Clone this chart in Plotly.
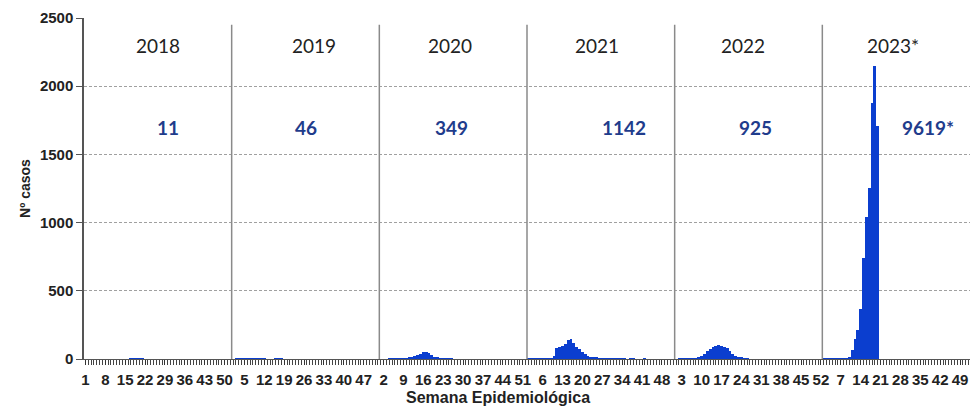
import plotly.graph_objects as go

# ---- data (weekly cases, 52 weeks per year) ----
years = ["2018", "2019", "2020", "2021", "2022", "2023*"]
year_totals = ["11", "46", "349", "1142", "925", "9619*"]

cases_2018 = [0, 0, 0, 0, 0, 0, 0, 0, 0, 0, 0, 0, 0,
              0, 0, 0, 1, 3, 4, 2, 1, 0, 0, 0, 0, 0,
              0, 0, 0, 0, 0, 0, 0, 0, 0, 0, 0, 0, 0,
              0, 0, 0, 0, 0, 0, 0, 0, 0, 0, 0, 0, 0]
cases_2019 = [0, 1, 2, 4, 6, 7, 7, 6, 4, 3, 2, 1, 0,
              0, 0, 1, 1, 1, 0, 0, 0, 0, 0, 0, 0, 0,
              0, 0, 0, 0, 0, 0, 0, 0, 0, 0, 0, 0, 0,
              0, 0, 0, 0, 0, 0, 0, 0, 0, 0, 0, 0, 0]
cases_2020 = [0, 0, 0, 2, 3, 4, 3, 2, 3, 5, 8, 12, 20,
              28, 38, 48, 52, 45, 32, 18, 10, 6, 4, 3, 2, 1,
              0, 0, 0, 0, 0, 0, 0, 0, 0, 0, 0, 0, 0,
              0, 0, 0, 0, 0, 0, 0, 0, 0, 0, 0, 0, 0]
cases_2021 = [1, 2, 1, 2, 2, 1, 2, 2, 2, 20, 80, 90, 95,
              110, 140, 150, 115, 90, 70, 50, 35, 25, 18, 12, 8, 5,
              2, 1, 1, 2, 1, 1, 1, 1, 1, 0, 1, 1, 0,
              0, 0, 1, 0, 0, 0, 0, 0, 0, 0, 0, 0, 0]
cases_2022 = [0, 1, 1, 1, 1, 2, 2, 5, 10, 25, 40, 60, 75,
              88, 95, 100, 98, 88, 78, 60, 40, 25, 15, 10, 3, 2,
              0, 0, 0, 0, 0, 0, 0, 0, 0, 0, 0, 0, 0,
              0, 0, 0, 0, 0, 0, 0, 0, 0, 0, 0, 0, 0]
cases_2023 = [2, 3, 4, 4, 5, 5, 6, 7, 7, 15, 64, 150, 211,
              370, 738, 1044, 1253, 1878, 2147, 1706]

tick_labels = ["1", "8", "15", "22", "29", "36", "43", "50",
               "5", "12", "19", "26", "33", "40", "47",
               "2", "9", "16", "23", "30", "37", "44", "51",
               "6", "13", "20", "27", "34", "41", "48",
               "3", "10", "17", "24", "31", "38", "45", "52",
               "7", "14", "21", "28", "35", "42", "49"]

WEEKS_PER_YEAR = 52
all_years = [cases_2018, cases_2019, cases_2020, cases_2021, cases_2022, cases_2023]
values = []
for yv in all_years:
    values.extend(yv)
x_idx = list(range(len(values)))
n_total = WEEKS_PER_YEAR * len(years)
tickvals = [i * 7 for i in range(len(tick_labels))]

fig = go.Figure()
fig.add_trace(go.Bar(x=x_idx, y=values, marker=dict(color="#0B3ECF", line=dict(width=0)),
                     width=1.0, showlegend=False, hoverinfo="skip"))

# year separators
shapes = []
for k in range(1, len(years)):
    xb = k * WEEKS_PER_YEAR - 0.5
    shapes.append(dict(type="line", xref="x", yref="y", x0=xb, x1=xb, y0=0, y1=2450,
                       line=dict(color="#8a8a8a", width=1.5)))

PLOT_LEFT, PLOT_RIGHT = 84, 970
PLOT_TOP, PLOT_BOTTOM = 18, 359

# annotation positions (layout only)
year_label_x = [25.5, 80.6, 128.4, 180, 231.7, 284.4]
total_label_x = [29, 77.8, 128.8, 189.5, 235.9, 296.6]
annotations = []
for i in range(len(years)):
    annotations.append(dict(x=year_label_x[i], y=2300, xref="x", yref="y", text=years[i],
                            showarrow=False, font=dict(family="Lato", size=19, color="#222222")))
    annotations.append(dict(x=total_label_x[i], y=1700, xref="x", yref="y", text="<b>%s</b>" % year_totals[i],
                            showarrow=False, font=dict(family="Lato", size=19, color="#1F3C8C")))
annotations.append(dict(x=(498 - PLOT_LEFT) / (PLOT_RIGHT - PLOT_LEFT),
                        y=-(398 - PLOT_BOTTOM) / (PLOT_BOTTOM - PLOT_TOP),
                        xref="paper", yref="paper", yanchor="middle",
                        text="<b>Semana Epidemiológica</b>", showarrow=False,
                        font=dict(family="Liberation Sans", size=16, color="#222222")))

fig.update_layout(
    width=971, height=412,
    margin=dict(l=PLOT_LEFT, r=971 - PLOT_RIGHT, t=PLOT_TOP, b=412 - PLOT_BOTTOM),
    plot_bgcolor="white", paper_bgcolor="white",
    bargap=0,
    shapes=shapes,
    annotations=annotations,
    xaxis=dict(
        range=[-0.5, n_total - 0.5],
        tickmode="array", tickvals=tickvals, ticktext=tick_labels,
        tickangle=0,
        tickfont=dict(family="Liberation Sans", size=15, color="#222222", weight="bold"),
        ticks="outside", ticklen=5, tickcolor="#333333",
        ticklabelstandoff=2,
        minor=dict(dtick=1, tick0=0, ticks="outside", ticklen=5, tickcolor="#444444", tickwidth=1),
        showline=True, linecolor="#555555", linewidth=1,
        showgrid=False, zeroline=False,
    ),
    yaxis=dict(
        range=[0, 2500], dtick=500, tick0=0,
        tickfont=dict(family="Liberation Sans", size=15, color="#222222", weight="bold"),
        ticks="outside", ticklen=6, tickcolor="#555555",
        showline=True, linecolor="#555555", linewidth=1.5,
        showgrid=True, gridcolor="#a0a0a0", griddash="3px,2px", gridwidth=1,
        zeroline=False,
        title=dict(text="<b>Nº casos</b>", standoff=6,
                   font=dict(family="Liberation Sans", size=14, color="#222222")),
    ),
)

fig.write_html("out.html", config={"displayModeBar": False},
               post_script="document.body.style.margin='0';")
